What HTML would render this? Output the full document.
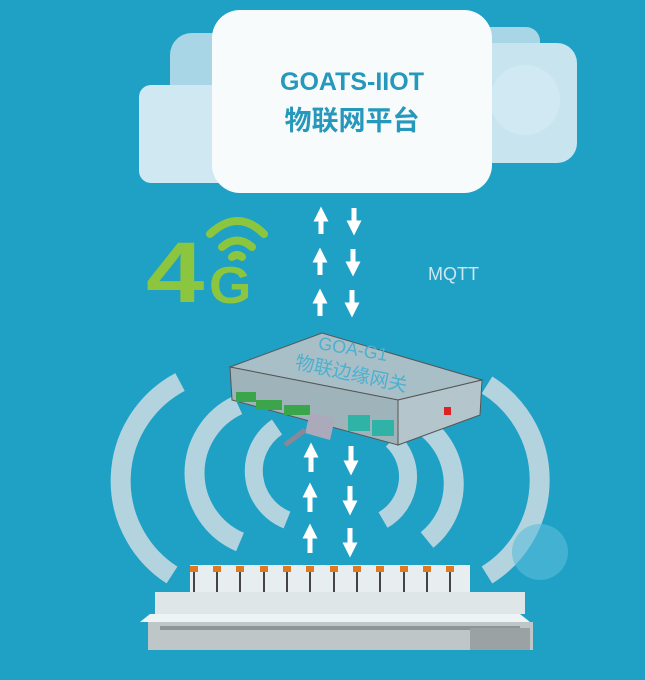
<!DOCTYPE html>
<html><head><meta charset="utf-8"><style>
body{margin:0;width:645px;height:680px;overflow:hidden;background:#1fa1c5}
</style></head><body>
<svg width="645" height="680" viewBox="0 0 645 680" xmlns="http://www.w3.org/2000/svg" style="position:absolute;left:0;top:0">
<defs>
<marker id="a" viewBox="0 0 10 10" refX="5" refY="5" markerWidth="3" markerHeight="3" orient="auto-start-reverse"><path d="M0,0L10,5L0,10z" fill="#fff"/></marker>
</defs>
<rect width="645" height="680" fill="#1fa1c5"/>
<!-- cloud -->
<rect x="170" y="33" width="140" height="140" rx="22" fill="#a9d6e6"/>
<rect x="139" y="85" width="125" height="98" rx="12" fill="#cfe8f1"/>
<rect x="440" y="27" width="100" height="75" rx="14" fill="#a9d6e6"/>
<rect x="440" y="43" width="137" height="120" rx="20" fill="#c8e5ef"/>
<circle cx="525" cy="100" r="35" fill="#d0e9f2"/>
<rect x="212" y="10" width="280" height="183" rx="28" fill="#f7fbfc"/>
<text x="352" y="90" text-anchor="middle" font-family="Liberation Sans,sans-serif" font-weight="bold" font-size="25" fill="#2698bb">GOATS-IIOT</text>
<text x="352" y="130" text-anchor="middle" font-family="Liberation Sans,'Noto Sans CJK SC',sans-serif" font-weight="bold" font-size="27" fill="#2698bb">物联网平台</text>
<!-- arrows top -->
<g stroke="#fff" stroke-width="5" fill="none">
<line x1="321" y1="234" x2="321" y2="214" marker-end="url(#a)"/>
<line x1="354" y1="208" x2="354" y2="228" marker-end="url(#a)"/>
<line x1="320" y1="275" x2="320" y2="255" marker-end="url(#a)"/>
<line x1="353" y1="249" x2="353" y2="269" marker-end="url(#a)"/>
<line x1="320" y1="316" x2="320" y2="296" marker-end="url(#a)"/>
<line x1="352" y1="290" x2="352" y2="310" marker-end="url(#a)"/>
</g>
<text x="428" y="280" font-family="Liberation Sans,sans-serif" font-size="18" fill="#cfe6ee">MQTT</text>
<!-- 4G -->
<text x="0" y="0" font-family="Liberation Sans,sans-serif" font-weight="bold" font-size="86" fill="#8cc63f" transform="translate(146,302) scale(1.22,1)">4</text>
<text x="0" y="0" font-family="Liberation Sans,sans-serif" font-weight="bold" font-size="52" fill="#8cc63f" transform="translate(209,303) scale(1.05,1)">G</text>
<g stroke="#8cc63f" stroke-width="8" fill="none" stroke-linecap="round">
<path d="M210,234 Q238,208 264,234"/>
<path d="M222,247 Q237,234 252,247"/>
<path d="M232,257 Q237,253 242,257"/>
</g>
<!-- waves -->
<g stroke="#b3d3de" stroke-width="20" fill="none">
<path d="M180,382 A112,112 0 0 0 172,575"/>
<path d="M487,385 A112,112 0 0 1 487,575"/>
<path d="M238,405 A75,75 0 0 0 240,542"/>
<path d="M420,423 A72,72 0 0 1 427,540"/>
<path d="M277,427 A53,53 0 0 0 287,520" stroke-width="18"/>
<path d="M392,440 A50,50 0 0 1 383,520" stroke-width="18"/>
</g>
<circle cx="540" cy="552" r="28" fill="#5cbcd8" opacity="0.6"/>
<!-- gateway -->
<polygon points="230,367 322,333 482,380 398,400" fill="#a9bfc7" stroke="#555" stroke-width="1"/>
<polygon points="230,367 398,400 398,445 232,400" fill="#9fb3bb" stroke="#555" stroke-width="1"/>
<polygon points="398,400 482,380 480,415 398,445" fill="#b4c5cb" stroke="#555" stroke-width="1"/>
<rect x="236" y="392" width="20" height="10" fill="#3aa54a"/>
<rect x="256" y="400" width="26" height="10" fill="#3aa54a"/>
<rect x="284" y="405" width="26" height="10" fill="#3aa54a"/>
<rect x="348" y="415" width="22" height="16" fill="#2fb3a6"/>
<rect x="372" y="420" width="22" height="16" fill="#2fb3a6"/>
<rect x="444" y="407" width="7" height="8" fill="#d22"/>
<path d="M310,413 L335,418 L330,440 L305,433z" fill="#aab"/>
<line x1="305" y1="430" x2="285" y2="445" stroke="#889" stroke-width="5"/>
<text x="352" y="355" text-anchor="middle" font-family="Liberation Sans,sans-serif" font-size="18" fill="#4db0cf" transform="rotate(10 352 355)">GOA-G1</text>
<text x="350" y="380" text-anchor="middle" font-family="Liberation Sans,'Noto Sans CJK SC',sans-serif" font-size="19" fill="#4db0cf" transform="rotate(12 350 380)">物联边缘网关</text>
<!-- arrows bottom -->
<g stroke="#fff" stroke-width="5" fill="none">
<line x1="311" y1="472" x2="311" y2="450" marker-end="url(#a)"/>
<line x1="351" y1="446" x2="351" y2="468" marker-end="url(#a)"/>
<line x1="310" y1="512" x2="310" y2="490" marker-end="url(#a)"/>
<line x1="350" y1="486" x2="350" y2="508" marker-end="url(#a)"/>
<line x1="310" y1="553" x2="310" y2="531" marker-end="url(#a)"/>
<line x1="350" y1="528" x2="350" y2="550" marker-end="url(#a)"/>
</g>
<!-- machine -->
<rect x="190" y="565" width="280" height="45" fill="#e8eef0"/>
<g fill="#e07a20">
<rect x="190" y="566" width="8" height="6"/><rect x="213" y="566" width="8" height="6"/><rect x="236" y="566" width="8" height="6"/><rect x="260" y="566" width="8" height="6"/><rect x="283" y="566" width="8" height="6"/><rect x="306" y="566" width="8" height="6"/><rect x="330" y="566" width="8" height="6"/><rect x="353" y="566" width="8" height="6"/><rect x="376" y="566" width="8" height="6"/><rect x="400" y="566" width="8" height="6"/><rect x="423" y="566" width="8" height="6"/><rect x="446" y="566" width="8" height="6"/>
</g>
<g stroke="#444" stroke-width="2">
<line x1="194" y1="572" x2="194" y2="612"/><line x1="217" y1="572" x2="217" y2="612"/><line x1="240" y1="572" x2="240" y2="612"/><line x1="264" y1="572" x2="264" y2="612"/><line x1="287" y1="572" x2="287" y2="612"/><line x1="310" y1="572" x2="310" y2="612"/><line x1="334" y1="572" x2="334" y2="612"/><line x1="357" y1="572" x2="357" y2="612"/><line x1="380" y1="572" x2="380" y2="612"/><line x1="404" y1="572" x2="404" y2="612"/><line x1="427" y1="572" x2="427" y2="612"/><line x1="450" y1="572" x2="450" y2="612"/>
</g>
<rect x="155" y="592" width="370" height="22" fill="#dfe6e8"/>
<polygon points="140,622 530,622 520,614 150,614" fill="#eef3f4"/>
<rect x="148" y="622" width="385" height="28" fill="#bfc6c8"/>
<rect x="160" y="626" width="360" height="4" fill="#8d9597"/>
<rect x="470" y="628" width="60" height="22" fill="#9aa2a4"/>
</svg>
</body></html>
